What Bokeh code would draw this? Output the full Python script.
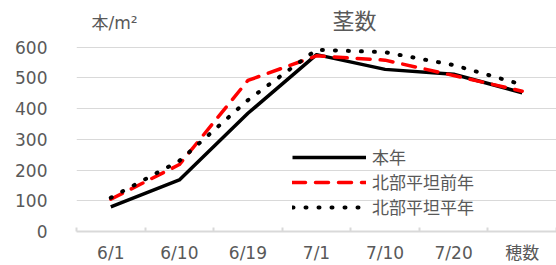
from bokeh.plotting import figure
from bokeh.layouts import column
from bokeh.models import (FactorRange, Range1d, LinearAxis, FixedTicker,
                          Legend, LegendItem, Label)
from bokeh.embed import file_html
from bokeh.resources import INLINE

categories = ["6/1", "6/10", "6/19", "7/1", "7/10", "7/20", "穂数"]
honnen = [80, 168, 385, 576, 528, 512, 452]      # 本年
zennen = [105, 218, 492, 572, 558, 508, 457]     # 北部平坦前年
heinen = [110, 230, 428, 592, 584, 542, 478]     # 北部平坦平年
series_names = ["本年", "北部平坦前年", "北部平坦平年"]
y_ticks = [0, 100, 200, 300, 400, 500, 600]
title_text = "茎数"
unit_text = "本/m²"

GRAY = "#595959"
LINE_GRAY = "#d9d9d9"
NUM_FONT = "'DejaVu Sans', 'Noto Sans CJK JP'"

HEAD_H = 34

# ---- header strip with the title and the unit text ----
head = figure(width=556, height=HEAD_H, x_range=Range1d(0, 1), y_range=Range1d(0, 1),
              x_axis_location=None, y_axis_location=None, output_backend="svg",
              toolbar_location=None, min_border=0, min_border_left=0, min_border_right=0,
              min_border_top=0, min_border_bottom=0)
head.outline_line_color = None
head.xgrid.visible = False
head.ygrid.visible = False
head.add_layout(Label(x=278, y=HEAD_H - 18, x_units="screen", y_units="screen", text=title_text,
                      text_align="center", text_baseline="middle",
                      text_font="Noto Sans CJK JP", text_font_size="22px",
                      text_color=GRAY))
head.add_layout(Label(x=15, y=HEAD_H - 22, x_units="screen", y_units="screen", text=unit_text,
                      text_align="left", text_baseline="middle",
                      text_font=NUM_FONT, text_font_size="17px",
                      text_color=GRAY))

# ---- main chart ----
p = figure(width=556, height=265 - HEAD_H, x_range=FactorRange(*categories),
           y_range=Range1d(0, 609),
           x_axis_location=None, output_backend="svg", toolbar_location=None,
           min_border_left=76, min_border_right=0, min_border_top=44 - HEAD_H,
           min_border_bottom=34)
p.outline_line_color = None
p.background_fill_color = "white"
p.border_fill_color = "white"

yax = p.yaxis[0]
yax.ticker = FixedTicker(ticks=y_ticks)
yax.axis_line_color = None
yax.major_tick_line_color = None
yax.minor_tick_line_color = None
yax.major_label_text_font = "DejaVu Sans"
yax.major_label_text_font_size = "17px"
yax.major_label_text_color = GRAY
yax.major_label_standoff = 23

p.xgrid.visible = False
p.ygrid.ticker = FixedTicker(ticks=y_ticks[1:])
p.ygrid.grid_line_color = LINE_GRAY
p.ygrid.grid_line_width = 1

# x axis: labels at category centres, tick marks at category boundaries
# (positions in the factor range's own synthetic coordinates)
n = len(categories)
centres = [i + 0.5 for i in range(n)]
xax = LinearAxis(ticker=FixedTicker(ticks=centres, minor_ticks=list(range(n + 1))),
                 major_label_overrides={c: lab for c, lab in zip(centres, categories)},
                 major_tick_in=0, major_tick_out=0, major_tick_line_color=None,
                 minor_tick_in=4, minor_tick_out=0,
                 minor_tick_line_color=LINE_GRAY, minor_tick_line_width=2,
                 axis_line_color=LINE_GRAY, axis_line_width=2,
                 major_label_text_font=NUM_FONT,
                 major_label_text_font_size="17px",
                 major_label_text_color=GRAY,
                 major_label_standoff=11)
p.add_layout(xax, "below")

r1 = p.line(categories, honnen, line_color="black", line_width=3.5, line_join="round")
r2 = p.line(categories, zennen, line_color="#ff0000", line_width=3.5, line_dash="13 10",
            line_cap="round", line_join="round")
r3 = p.line(categories, heinen, line_color="black", line_width=4, line_dash="1 12",
            line_cap="round", line_join="round")

legend = Legend(items=[LegendItem(label=series_names[0], renderers=[r1]),
                       LegendItem(label=series_names[1], renderers=[r2]),
                       LegendItem(label=series_names[2], renderers=[r3])],
                location=(216, 12), glyph_width=74, glyph_height=18, label_height=18,
                spacing=-8, padding=0, margin=0, label_standoff=6,
                border_line_color=None, background_fill_alpha=0,
                label_text_font=NUM_FONT, label_text_font_size="17px",
                label_text_color=GRAY)
p.add_layout(legend)

layout = column(head, p, spacing=0)
open("out.html", "w").write(file_html(layout, INLINE))
